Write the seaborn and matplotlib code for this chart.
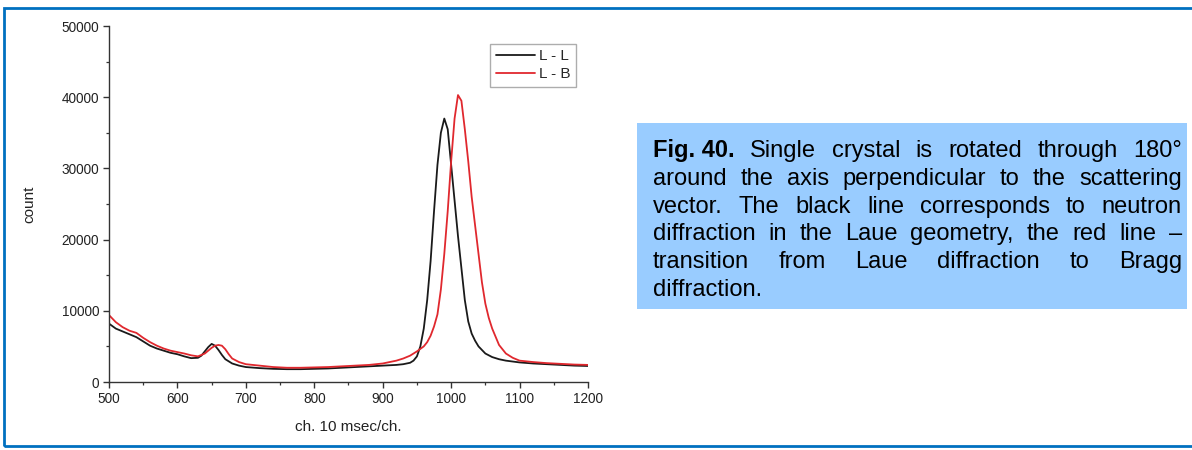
import numpy as np
import pandas as pd
import matplotlib
matplotlib.use("Agg")
import matplotlib.pyplot as plt
from matplotlib.patches import Rectangle
from matplotlib.lines import Line2D
import seaborn as sns

# ---------------- data ----------------
ll_ch = [500, 510, 520, 530, 540, 550, 560, 570, 580, 590, 600, 610, 620, 630,
         635, 640, 645, 650, 655, 660, 665, 670, 680, 690, 700,
         720, 740, 760, 780, 800, 820, 840, 860, 880, 900, 920,
         930, 940, 945, 950, 955, 960, 965, 970, 975, 980, 985, 990, 995, 1000,
         1005, 1010, 1015, 1020, 1025, 1030, 1035, 1040,
         1050, 1060, 1070, 1080, 1100, 1120, 1140, 1160, 1180, 1200]
ll_count = [8200, 7500, 7100, 6700, 6300, 5700, 5100, 4700, 4400, 4100, 3900, 3600, 3350, 3400,
            3700, 4300, 4900, 5350, 5100, 4500, 3800, 3200, 2600, 2300, 2100,
            1950, 1850, 1800, 1800, 1850, 1900, 2000, 2100, 2200, 2300, 2400,
            2500, 2700, 3000, 3600, 5000, 7500, 11500, 17000, 24000, 30500, 35000, 37000, 35500, 30500,
            25500, 20500, 16000, 11500, 8500, 6800, 5800, 5000,
            4000, 3500, 3200, 3000, 2750, 2600, 2500, 2400, 2300, 2250]

lb_ch = [500, 510, 520, 530, 540, 550, 560, 570, 580, 590, 600, 610, 620, 630,
         640, 645, 650, 655, 660, 665, 670, 675, 680, 690, 700,
         720, 740, 760, 780, 800, 820, 840, 860, 880, 900, 920,
         930, 940, 950, 960, 965, 970, 975, 980, 985, 990, 995, 1000, 1005, 1010,
         1015, 1020, 1025, 1030, 1035, 1040, 1045, 1050, 1055, 1060,
         1070, 1080, 1090, 1100, 1120, 1140, 1160, 1180, 1200]
lb_count = [9400, 8400, 7700, 7200, 6900, 6200, 5600, 5100, 4700, 4400, 4200, 4000, 3750, 3600,
            4000, 4400, 4800, 5100, 5200, 5100, 4600, 3900, 3300, 2800, 2500,
            2300, 2100, 2000, 2000, 2050, 2100, 2200, 2300, 2400, 2600, 3000,
            3300, 3700, 4300, 5000, 5600, 6500, 7800, 9500, 13000, 18000, 24000, 31000, 37000, 40300,
            39500, 35500, 31000, 26000, 22000, 18000, 14000, 11000, 9000, 7500,
            5200, 4000, 3400, 3000, 2800, 2650, 2550, 2450, 2400]

series_names = ["L - L", "L - B"]
series_colors = ["#1a1a1a", "#e0282e"]

x_ticks = [500, 600, 700, 800, 900, 1000, 1100, 1200]
y_ticks = [0, 10000, 20000, 30000, 40000, 50000]
x_label = "ch. 10 msec/ch."
y_label = "count"

caption_lines = [
    ["Fig. 40.", "Single", "crystal", "is", "rotated", "through", "180°"],
    ["around", "the", "axis", "perpendicular", "to", "the", "scattering"],
    ["vector.", "The", "black", "line", "corresponds", "to", "neutron"],
    ["diffraction", "in", "the", "Laue", "geometry,", "the", "red", "line", "–"],
    ["transition", "from", "Laue", "diffraction", "to", "Bragg"],
    ["diffraction."],
]

df = pd.concat([
    pd.DataFrame({"ch": ll_ch, "count": ll_count, "series": series_names[0]}),
    pd.DataFrame({"ch": lb_ch, "count": lb_count, "series": series_names[1]}),
], ignore_index=True)

# ---------------- figure ----------------
sns.set_style("ticks")
plt.rcParams["font.family"] = ["Liberation Sans", "DejaVu Sans"]

W, H = 1192, 450
fig = plt.figure(figsize=(W / 100, H / 100), dpi=100)
fig.patch.set_facecolor("white")

def fx(px):
    return px / W

def fy(py):
    return 1 - py / H

ax = fig.add_axes([fx(109), fy(382), fx(588) - fx(109), fy(26) - fy(382)])
palette = dict(zip(series_names, series_colors))
sns.lineplot(data=df, x="ch", y="count", hue="series", palette=palette,
             estimator=None, sort=False, linewidth=1.3, ax=ax, legend=False)

ax.set_xlim(500, 1200)
ax.set_ylim(0, 50000)
ax.set_xticks(x_ticks)
ax.set_yticks(y_ticks)
ax.set_xticks([550, 650, 750, 850, 950, 1050, 1150], minor=True)
ax.set_yticks([5000, 15000, 25000, 35000, 45000], minor=True)
ax.set_xticklabels([str(v) for v in x_ticks])
ax.set_yticklabels([str(v) for v in y_ticks])
for s in ["top", "right"]:
    ax.spines[s].set_visible(False)
for s in ["left", "bottom"]:
    ax.spines[s].set_color("#333333")
    ax.spines[s].set_linewidth(1.0)
ax.tick_params(axis="both", which="major", length=4, width=1.0, color="#333333",
               labelsize=9.8, labelcolor="#222222", pad=3)
ax.tick_params(axis="both", which="minor", length=2.5, width=0.9, color="#333333")
ax.set_xlabel(x_label, fontsize=11, color="#222222", labelpad=10)
ax.set_ylabel(y_label, fontsize=11, color="#222222", labelpad=18)
ax.set_facecolor("white")

handles = [Line2D([0], [0], color=c, lw=1.3) for c in series_colors]
leg = fig.legend(handles, series_names, loc="upper right",
                 bbox_to_anchor=(fx(576), fy(44)), borderaxespad=0,
                 frameon=True, fancybox=False, fontsize=11, handlelength=2.6,
                 handletextpad=0.25, borderpad=0.35, labelspacing=0.25)
leg.get_frame().set_edgecolor("#999999")
leg.get_frame().set_linewidth(1.0)

# outer border
fig.add_artist(Rectangle((fx(4), fy(446)), fx(1200) - fx(4), fy(8) - fy(446),
                         transform=fig.transFigure, fill=False,
                         edgecolor="#0070C0", linewidth=2.0, zorder=10))
# caption box
fig.add_artist(Rectangle((fx(637), fy(309)), fx(1187) - fx(637), fy(123) - fy(309),
                         transform=fig.transFigure, facecolor="#99CCFF",
                         edgecolor="none", zorder=1))

# justified caption text
fs = 17
left_px, right_px = 653, 1182
base0, step = 157, 27.8
renderer = fig.canvas.get_renderer()
for i, words in enumerate(caption_lines):
    yb = fy(base0 + i * step)
    texts = []
    for w in words:
        bold = w.startswith("Fig.")
        t = fig.text(0, yb, w, fontsize=fs, fontweight="bold" if bold else "normal",
                     va="baseline", ha="left", color="black", zorder=5)
        texts.append(t)
    widths = [t.get_window_extent(renderer).width for t in texts]
    if i == len(caption_lines) - 1 or len(words) == 1:
        space = 0.278 * fs * 100 / 72
    else:
        space = (right_px - left_px - sum(widths)) / (len(words) - 1)
    x = left_px
    for t, wdt in zip(texts, widths):
        t.set_x(fx(x))
        x += wdt + space

fig.savefig("out.png", dpi=100, facecolor="white")
